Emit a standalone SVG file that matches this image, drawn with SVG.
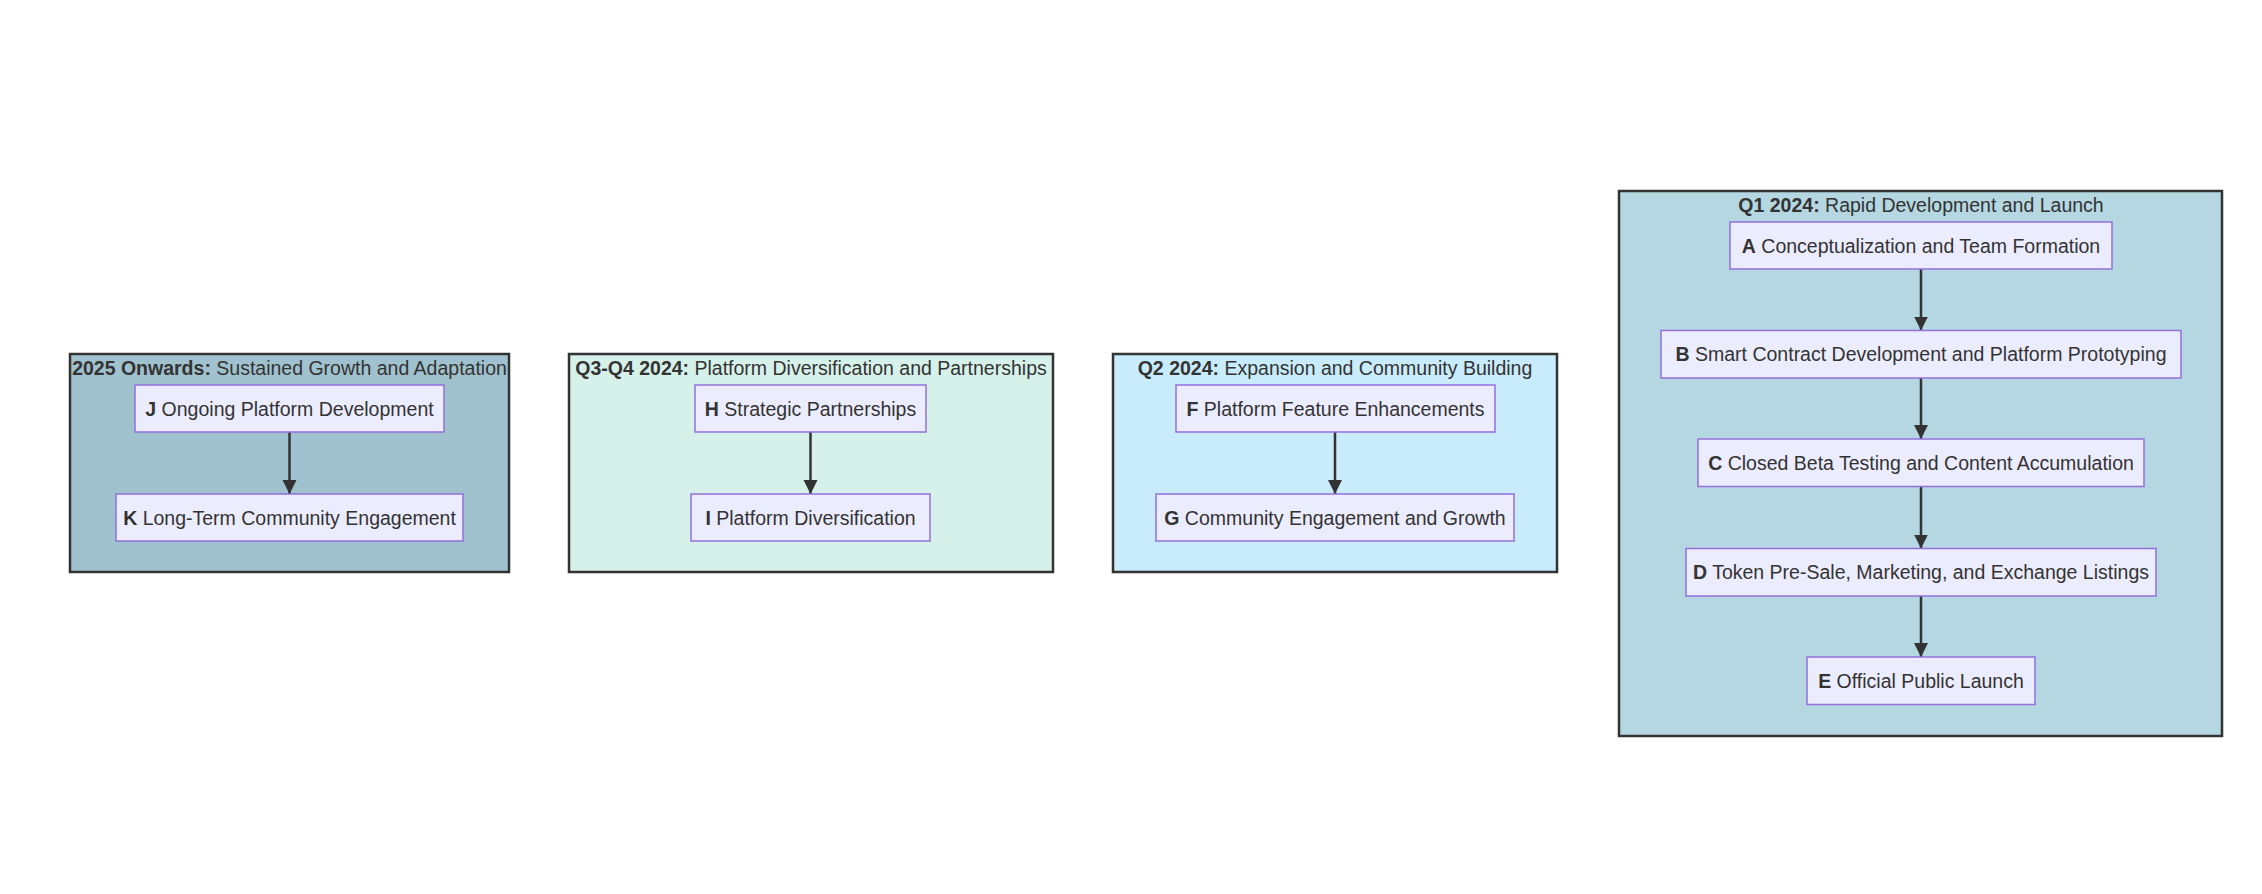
<svg xmlns="http://www.w3.org/2000/svg" width="2262" height="894" viewBox="0 0 2262 894">
<style>
text{font-family:"Liberation Sans",Arial,sans-serif;font-size:19.5px;fill:#333;text-anchor:middle}
.b{font-weight:bold}
.cl{stroke:#333;stroke-width:2.5}
.nd{fill:#ECECFF;stroke:#9370DB;stroke-width:1.5}
.ed{stroke:#333;stroke-width:2.5;fill:none}
</style>
<defs>
<marker id="ah" markerUnits="userSpaceOnUse" markerWidth="16" markerHeight="16" refX="14" refY="7" orient="auto">
<path d="M0,0 L14,7 L0,14 Z" fill="#333"/>
</marker>
</defs>
<rect width="2262" height="894" fill="#fff"/>
<g id="cluster-2025">
<rect class="cl" x="70" y="354" width="439" height="218" fill="#A0C2CE"/>
<text x="289.5" y="375"><tspan class="b">2025 Onwards:</tspan> Sustained Growth and Adaptation</text>
</g>
<g id="cluster-q3q4">
<rect class="cl" x="569" y="354" width="484" height="218" fill="#D6F1EA"/>
<text x="811" y="375"><tspan class="b">Q3-Q4 2024:</tspan> Platform Diversification and Partnerships</text>
</g>
<g id="cluster-q2">
<rect class="cl" x="1113" y="354" width="444" height="218" fill="#C8ECFC"/>
<text x="1335" y="375"><tspan class="b">Q2 2024:</tspan> Expansion and Community Building</text>
</g>
<g id="cluster-q1">
<rect class="cl" x="1619" y="191" width="603" height="545" fill="#B4D7E2"/>
<text x="1921" y="212"><tspan class="b">Q1 2024:</tspan> Rapid Development and Launch</text>
</g>
<g id="edges">
<line class="ed" x1="289.5" y1="432" x2="289.5" y2="494" marker-end="url(#ah)"/>
<line class="ed" x1="810.5" y1="432" x2="810.5" y2="494" marker-end="url(#ah)"/>
<line class="ed" x1="1335" y1="432" x2="1335" y2="494" marker-end="url(#ah)"/>
<line class="ed" x1="1921" y1="269" x2="1921" y2="330.5" marker-end="url(#ah)"/>
<line class="ed" x1="1921" y1="378" x2="1921" y2="439" marker-end="url(#ah)"/>
<line class="ed" x1="1921" y1="486.5" x2="1921" y2="548.5" marker-end="url(#ah)"/>
<line class="ed" x1="1921" y1="596" x2="1921" y2="657" marker-end="url(#ah)"/>
</g>
<g id="J"><rect class="nd" x="135" y="385" width="309" height="47"/><text x="289.5" y="415.5"><tspan class="b">J</tspan> Ongoing Platform Development</text></g>
<g id="K"><rect class="nd" x="116" y="494" width="347" height="47"/><text x="289.5" y="524.5"><tspan class="b">K</tspan> Long-Term Community Engagement</text></g>
<g id="H"><rect class="nd" x="695" y="385" width="231" height="47"/><text x="810.5" y="415.5"><tspan class="b">H</tspan> Strategic Partnerships</text></g>
<g id="I"><rect class="nd" x="691" y="494" width="239" height="47"/><text x="810.5" y="524.5"><tspan class="b">I</tspan> Platform Diversification</text></g>
<g id="F"><rect class="nd" x="1176" y="385" width="319" height="47"/><text x="1335.5" y="415.5"><tspan class="b">F</tspan> Platform Feature Enhancements</text></g>
<g id="G"><rect class="nd" x="1156" y="494" width="358" height="47"/><text x="1335" y="524.5"><tspan class="b">G</tspan> Community Engagement and Growth</text></g>
<g id="A"><rect class="nd" x="1730" y="222" width="382" height="47"/><text x="1921" y="252.5"><tspan class="b">A</tspan> Conceptualization and Team Formation</text></g>
<g id="B"><rect class="nd" x="1661" y="330.5" width="520" height="47.5"/><text x="1921" y="361"><tspan class="b">B</tspan> Smart Contract Development and Platform Prototyping</text></g>
<g id="C"><rect class="nd" x="1698" y="439" width="446" height="47.5"/><text x="1921" y="469.5"><tspan class="b">C</tspan> Closed Beta Testing and Content Accumulation</text></g>
<g id="D"><rect class="nd" x="1686" y="548.5" width="470" height="47.5"/><text x="1921" y="579"><tspan class="b">D</tspan> Token Pre-Sale, Marketing, and Exchange Listings</text></g>
<g id="E"><rect class="nd" x="1807" y="657" width="228" height="47.5"/><text x="1921" y="687.5"><tspan class="b">E</tspan> Official Public Launch</text></g>
</svg>
